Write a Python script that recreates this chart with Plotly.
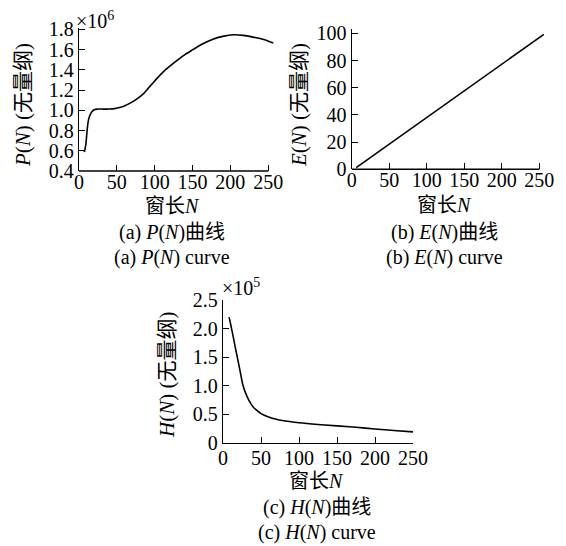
import plotly.graph_objects as go

# ---- data ----
N_p = [7, 8, 9, 10, 11, 12, 13, 15, 17, 20, 25, 30, 40, 47, 55, 62, 70, 78, 86, 93, 100, 112, 125, 137, 150, 163, 177, 190, 204, 217, 230, 244, 257]
P_vals = [0.587, 0.62, 0.66, 0.74, 0.82, 0.88, 0.92, 0.96, 0.985, 1.005, 1.012, 1.012, 1.012, 1.016, 1.03, 1.05, 1.08, 1.12, 1.17, 1.23, 1.29, 1.385, 1.466, 1.535, 1.597, 1.655, 1.703, 1.73, 1.746, 1.74, 1.723, 1.70, 1.664]

N_e = [6, 256]
E_vals = [1.2, 99.3]

N_h = [8, 10, 12, 14, 16, 18, 20, 23, 26, 30, 35, 40, 45, 50, 60, 70, 85, 100, 125, 150, 175, 200, 225, 250]
H_vals = [2.20, 2.08, 1.95, 1.82, 1.68, 1.55, 1.42, 1.22, 1.02, 0.86, 0.72, 0.62, 0.56, 0.51, 0.45, 0.41, 0.375, 0.35, 0.32, 0.295, 0.27, 0.24, 0.215, 0.19]

x_ticks = [0, 50, 100, 150, 200, 250]
p_ticks = [0.4, 0.6, 0.8, 1.0, 1.2, 1.4, 1.6, 1.8]
p_ticktext = ["0.4", "0.6", "0.8", "1.0", "1.2", "1.4", "1.6", "1.8"]
e_ticks = [0, 20, 40, 60, 80, 100]
h_ticks = [0, 0.5, 1.0, 1.5, 2.0, 2.5]
h_ticktext = ["0", "0.5", "1.0", "1.5", "2.0", "2.5"]

# page body has an 8px margin; the figure is sized so that it fills the window
OFF = 8
W, H = 566 - OFF, 546 - OFF
FONT = "'Liberation Serif', 'Noto Sans CJK SC', serif"
FS = 20


def px(x):
    return (x - OFF) / W


def py(y):
    return 1 - (y - OFF) / H


fig = go.Figure()
line = dict(color="black", width=1.6)
fig.add_trace(go.Scatter(x=N_p, y=P_vals, mode="lines", line=dict(**line, shape="spline"), xaxis="x", yaxis="y", showlegend=False))
fig.add_trace(go.Scatter(x=N_e, y=E_vals, mode="lines", line=line, xaxis="x2", yaxis="y2", showlegend=False))
fig.add_trace(go.Scatter(x=N_h, y=H_vals, mode="lines", line=dict(**line, shape="spline"), xaxis="x3", yaxis="y3", showlegend=False))

common = dict(showgrid=False, zeroline=False, ticks="inside", ticklen=6, tickwidth=1.2,
              tickcolor="black", linecolor="black", linewidth=1.4, automargin=False,
              tickfont=dict(family=FONT, size=FS, color="black"))
xcommon = dict(common, ticklabelstandoff=-3)

fig.update_layout(
    template="none",
    width=W, height=H, margin=dict(l=0, r=0, t=0, b=0, pad=0), autosize=False,
    paper_bgcolor="white", plot_bgcolor="white",
    font=dict(family=FONT, size=FS, color="black"),
    xaxis=dict(domain=[px(79), px(273.5)], range=[0, 257], tickvals=x_ticks, showline=False, anchor="y", **xcommon),
    yaxis=dict(domain=[py(171), py(28.3)], range=[0.4, 1.81], tickvals=p_ticks, ticktext=p_ticktext, showline=True, anchor="x", **common),
    xaxis2=dict(domain=[px(351.7), px(544.6)], range=[0, 257], tickvals=x_ticks, showline=False, anchor="y2", **xcommon),
    yaxis2=dict(domain=[py(169.3), py(29.3)], range=[0, 103], tickvals=e_ticks, showline=True, anchor="x2", **common),
    xaxis3=dict(domain=[px(223), px(413)], range=[0, 250], tickvals=x_ticks, showline=True, anchor="y3", **xcommon),
    yaxis3=dict(domain=[py(442.7), py(300)], range=[0, 2.5], tickvals=h_ticks, ticktext=h_ticktext, showline=True, anchor="x3", **common),
)

# x-axis lines ending at 250
for xr, yr in (("x", "y"), ("x2", "y2")):
    fig.add_shape(type="line", xref=xr, yref=yr + " domain", x0=0, x1=250, y0=0, y1=0,
                  line=dict(color="black", width=1.4))


def ann(text, x, y, size=FS, angle=0, xanchor="center"):
    fig.add_annotation(text=text, x=px(x), y=py(y), xref="paper", yref="paper",
                       showarrow=False, textangle=angle, xanchor=xanchor, yanchor="middle",
                       font=dict(family=FONT, size=size, color="black"))


# multipliers
ann("×10<sup>6</sup>", 74, 20, size=20, xanchor="left")
ann("×10<sup>5</sup>", 220, 287, size=20, xanchor="left")

# y-axis titles
ann("<i>P</i>(<i>N</i>) (无量纲)", 23, 105, size=21, angle=-90)
ann("<i>E</i>(<i>N</i>) (无量纲)", 299, 105, size=21, angle=-90)
ann("<i>H</i>(<i>N</i>) (无量纲)", 167, 375, size=21, angle=-90)

# x-axis titles
ann("窗长<i>N</i>", 172, 206, size=20)
ann("窗长<i>N</i>", 444, 205, size=20)
ann("窗长<i>N</i>", 316, 481, size=20)

# captions
ann("(a) <i>P</i>(<i>N</i>)曲线", 172, 233, size=20)
ann("(a) <i>P</i>(<i>N</i>) curve", 172, 257, size=20)
ann("(b) <i>E</i>(<i>N</i>)曲线", 444, 233, size=20)
ann("(b) <i>E</i>(<i>N</i>) curve", 444, 257, size=20)
ann("(c) <i>H</i>(<i>N</i>)曲线", 317, 507, size=20)
ann("(c) <i>H</i>(<i>N</i>) curve", 317, 532, size=20)

fig.write_html("out.html")
